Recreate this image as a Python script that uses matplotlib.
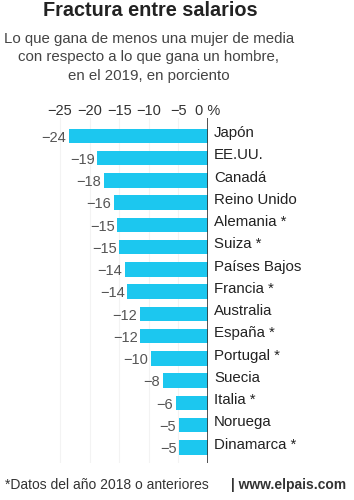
import matplotlib.pyplot as plt

plt.rcParams['font.family'] = ['Liberation Sans', 'DejaVu Sans']

# datos
paises = ["Japón", "EE.UU.", "Canadá", "Reino Unido", "Alemania *", "Suiza *",
          "Países Bajos", "Francia *", "Australia", "España *", "Portugal *",
          "Suecia", "Italia *", "Noruega", "Dinamarca *"]
brecha = [-23.5, -18.7, -17.6, -15.9, -15.3, -15.0, -14.1, -13.6, -11.5, -11.4,
          -9.6, -7.6, -5.4, -4.9, -4.85]
etiquetas = ["−24", "−19", "−18", "−16", "−15", "−15", "−14", "−14", "−12", "−12",
             "−10", "−8", "−6", "−5", "−5"]
ticks = [-25, -20, -15, -10, -5, 0]
tick_labels = ["−25", "−20", "−15", "−10", "−5", "0 %"]

fig = plt.figure(figsize=(3.54, 5.0), dpi=100)
ax = fig.add_axes([57 / 354, 1 - 463 / 500, 151 / 354, 345 / 500])

y = list(range(len(paises)))
ax.barh(y, brecha, height=0.65, color="#1cc7ef", zorder=2)
ax.axvline(0, color="#333333", lw=1.2, zorder=3)

for yi, v, lab, pais in zip(y, brecha, etiquetas, paises):
    ax.text(v - 0.45, yi + 0.08, lab, ha="right", va="center", fontsize=10.5, color="#555555")
    ax.text(1.0, yi - 0.12, pais, ha="left", va="center", fontsize=10.8, color="#222222",
            clip_on=False)

ax.set_xlim(-25.5, 0)
ax.set_ylim(14.7, -0.8)
ax.set_xticks(ticks)
ax.set_xticklabels(tick_labels)
ax.xaxis.tick_top()
ax.tick_params(axis="x", length=0, pad=0, labelsize=10.5, labelcolor="#333333")
ax.set_yticks([])
ax.grid(axis="x", color="#f3f3f3", lw=0.8, zorder=0)
for s in ax.spines.values():
    s.set_visible(False)

fig.text(150 / 354, 1 - 10 / 500, "Fractura entre salarios", ha="center", va="center",
         fontsize=14.3, fontweight="bold", color="#222222")
sub = ["Lo que gana de menos una mujer de media",
       "con respecto a lo que gana un hombre,",
       "en el 2019, en porciento"]
for i, linea in enumerate(sub):
    fig.text(149 / 354, 1 - (39 + i * 18.5) / 500, linea, ha="center", va="center",
             fontsize=10.8, color="#444444")

cond = ['Liberation Sans Narrow', 'DejaVu Sans Condensed', 'Liberation Sans']
fig.text(5 / 354, 1 - 485 / 500, "*Datos del año 2018 o anteriores", ha="left", va="center",
         fontsize=10, color="#333333", family=cond)
fig.text(346 / 354, 1 - 485 / 500, "| www.elpais.com", ha="right", va="center",
         fontsize=10, fontweight="bold", color="#333333", family=cond)

fig.savefig("out.png", dpi=100)
